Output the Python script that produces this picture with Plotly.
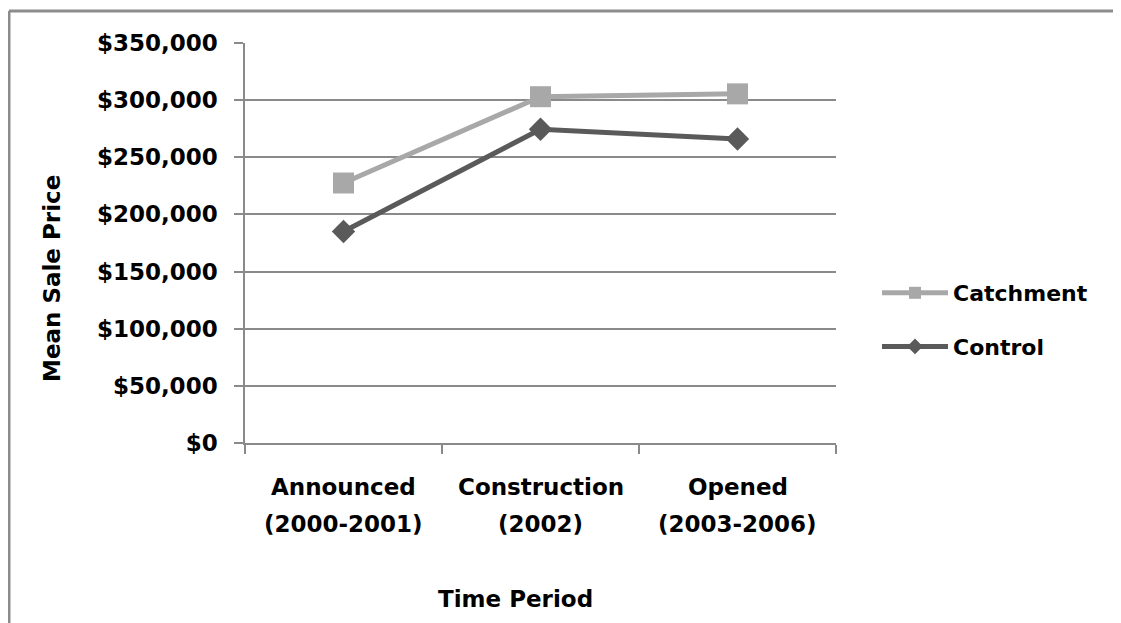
import plotly.graph_objects as go

# ---- data ----
periods = ["Announced", "Construction", "Opened"]
period_years = ["(2000-2001)", "(2002)", "(2003-2006)"]
catchment = [227500, 303000, 305500]
control = [185000, 274500, 266000]
y_ticks = [0, 50000, 100000, 150000, 200000, 250000, 300000, 350000]
y_tick_labels = ["$0", "$50,000", "$100,000", "$150,000", "$200,000",
                 "$250,000", "$300,000", "$350,000"]

OFF = 8                      # page body margin
SW, SH = 1121, 623           # screen size
W, H = SW - OFF, SH - OFF    # figure size
# plot area in screen pixels
PL, PR, PT, PB = 245, 836, 43, 443
ML, MR, MT, MB = PL - OFF, W - (PR - OFF), PT - OFF, H - (PB - OFF)
FONT = "DejaVu Sans"
GRID = "#8a8a8a"

def py2paper(py):  # screen y -> paper
    return (PB - py) / (PB - PT)

def px2paper(px):  # screen x -> paper
    return (px - PL) / (PR - PL)

fig = go.Figure()
fig.add_trace(go.Scatter(
    x=periods, y=catchment, name="Catchment", mode="lines+markers",
    line=dict(color="#a8a8a8", width=5),
    marker=dict(symbol="square", size=21, color="#a8a8a8"),
    legendgroup="a"))
fig.add_trace(go.Scatter(
    x=periods, y=control, name="Control", mode="lines+markers",
    line=dict(color="#5a5a5a", width=5),
    marker=dict(symbol="diamond", size=18, color="#5a5a5a"),
    legendgroup="b"))

bold = dict(family=FONT, size=23, color="black", weight="bold")
annotations = []
for p, yr in zip(periods, period_years):
    annotations.append(dict(x=p, y=py2paper(487), xref="x", yref="paper",
                            text=p, showarrow=False, yanchor="middle", font=bold))
    annotations.append(dict(x=p, y=py2paper(524), xref="x", yref="paper",
                            text=yr, showarrow=False, yanchor="middle", font=bold))
annotations.append(dict(x=px2paper(515), y=py2paper(599), xref="paper", yref="paper",
                        text="Time Period", showarrow=False, yanchor="middle", font=bold))
annotations.append(dict(x=px2paper(52), y=py2paper(279), xref="paper", yref="paper",
                        text="Mean Sale Price", showarrow=False, textangle=-90,
                        xanchor="center", yanchor="middle", font=bold))

shapes = [
    dict(type="line", xref="paper", yref="paper",
         x0=px2paper(9), x1=px2paper(SW + 10), y0=py2paper(11), y1=py2paper(11),
         line=dict(color="#8c8c8c", width=3)),
    dict(type="line", xref="paper", yref="paper",
         x0=px2paper(9), x1=px2paper(9), y0=py2paper(11), y1=py2paper(SH + 10),
         line=dict(color="#8c8c8c", width=3)),
]

fig.update_layout(
    width=W, height=H,
    margin=dict(l=ML, r=MR, t=MT, b=MB, pad=0),
    paper_bgcolor="white", plot_bgcolor="white",
    font=bold,
    annotations=annotations, shapes=shapes,
    showlegend=True,
    legend=dict(x=px2paper(877), y=py2paper(272), xanchor="left", yanchor="top",
                font=dict(family=FONT, size=22, color="black", weight="bold"),
                itemsizing="constant", itemwidth=66, tracegroupgap=22,
                traceorder="grouped", bgcolor="rgba(0,0,0,0)"),
    xaxis=dict(type="category", range=[-0.5, 2.5], showticklabels=False,
               tickson="boundaries", ticks="outside", ticklen=9, tickcolor=GRID,
               tickwidth=1.5, showgrid=False, showline=True, linecolor=GRID,
               linewidth=1.5, zeroline=False, fixedrange=True),
    yaxis=dict(range=[0, 350000], tickvals=y_ticks, ticktext=y_tick_labels,
               ticks="outside", ticklen=9, tickcolor=GRID, tickwidth=1.5,
               showgrid=True, gridcolor=GRID, gridwidth=1.5,
               showline=True, linecolor=GRID, linewidth=1.5, zeroline=False,
               ticklabelstandoff=12, tickfont=bold),
)

fig.write_html("out.html")
